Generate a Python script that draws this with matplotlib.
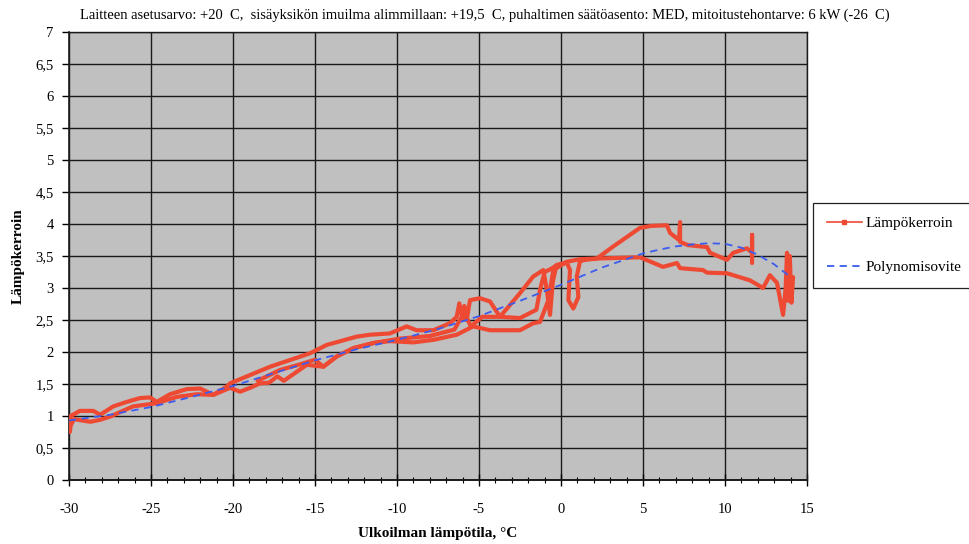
import matplotlib
matplotlib.use("Agg")
import matplotlib.pyplot as plt
from matplotlib.lines import Line2D
from matplotlib.ticker import MultipleLocator, FuncFormatter
import numpy as np

plt.rcParams['font.family'] = ['Liberation Serif', 'DejaVu Serif']

# Measured COP (lämpökerroin) against outdoor temperature, recorded as
# several passes through the temperature range.
pass1_temp = [-29.95, -29.9, -29.7, -28.7, -28.1, -27.5, -26.1, -24.65, -23.4, -22.2,
              -21.2, -20.18, -19.57, -18.96, -18.35, -17.8, -17.3, -16.9, -15.5, -14.49,
              -13.68, -12.66, -11.44, -10.43, -9.0, -7.78, -6.36, -5.35, -4.33, -2.5,
              -1.69, -1.28, -0.77, -0.47, 0.35, 1.16, 2.18, 4.82, 6.22, 7.07,
              7.26, 8.66, 8.9, 10.12, 11.52, 12.32, 12.74, 13.17, 13.54, 13.7,
              13.78, 13.85, 13.95, 14.05, 14.15]
pass1_cop = [0.75, 0.85, 0.95, 0.91, 0.94, 0.99, 1.15, 1.20, 1.30, 1.34,
             1.33, 1.44, 1.38, 1.44, 1.51, 1.52, 1.62, 1.55, 1.80, 1.77,
             1.93, 2.06, 2.14, 2.17, 2.15, 2.19, 2.27, 2.40, 2.34, 2.34,
             2.45, 2.47, 2.81, 3.28, 3.41, 3.45, 3.46, 3.48, 3.33, 3.39,
             3.31, 3.28, 3.24, 3.23, 3.12, 3.00, 3.20, 3.08, 2.58, 3.00,
             3.55, 2.80, 3.50, 2.77, 3.17]

pass2_temp = [11.65, 11.65, 11.65, 11.34, 10.5, 10.12, 9.09, 8.9, 7.74, 7.26,
              7.26, 7.2, 6.65, 6.46, 5.5, 4.82, 3.19, 2.18, 1.5, 1.16,
              0.96, 1.06, 0.75, 0.45, 0.55, 0.35, -0.27, -0.5, -0.67, -0.85,
              -1.08, -1.69, -2.5, -3.72, -4.33, -4.94, -5.55, -5.75, -5.9, -6.0,
              -6.2, -6.36, -6.77, -7.78, -8.8, -9.41, -10.43, -11.65, -12.46, -14.29,
              -15.3, -16.52, -17.74, -18.96, -20.18, -20.38, -21.2, -22.0, -22.82, -23.84,
              -24.65, -25.06, -25.67, -26.48, -27.3, -28.1, -28.52, -29.33, -29.9, -30.0]
pass2_cop = [3.39, 3.83, 3.55, 3.62, 3.55, 3.44, 3.55, 3.64, 3.67, 3.72,
             4.03, 3.75, 3.86, 3.98, 3.97, 3.94, 3.65, 3.46, 3.44, 3.42,
             3.18, 2.86, 2.68, 2.81, 3.28, 3.40, 3.36, 3.10, 2.58, 2.95,
             3.28, 3.18, 2.92, 2.55, 2.79, 2.84, 2.81, 2.50, 2.72, 2.52,
             2.76, 2.55, 2.45, 2.34, 2.34, 2.40, 2.29, 2.27, 2.24, 2.11,
             1.98, 1.875, 1.77, 1.64, 1.51, 1.46, 1.33, 1.43, 1.42, 1.34,
             1.22, 1.29, 1.28, 1.22, 1.15, 1.02, 1.08, 1.08, 1.00, 0.85]

pass3_temp = [-18.5, -17.13, -16.0, -15.0, -14.49, -13.68, -12.66, -11.44, -9.8, -8.0,
              -6.5, -5.9, -5.5, -4.8, -3.72, -2.5, -1.5, -1.28, -1.0, -0.6,
              -0.3, 0.2]
pass3_cop = [1.55, 1.72, 1.80, 1.88, 1.77, 1.93, 2.06, 2.14, 2.21, 2.25,
             2.35, 2.62, 2.40, 2.55, 2.55, 2.53, 2.66, 2.97, 3.25, 3.30,
             3.35, 3.38]

# Polynomial trend line (polynomisovite)
trend_temp = [-30, -27.5, -25, -22.5, -20, -17.5, -15, -12.5, -10, -7.5,
              -5, -2.5, 0, 2.5, 5, 6, 7, 8, 9, 10,
              11, 12, 13, 14]
trend_cop = [0.93, 1.02, 1.14, 1.30, 1.47, 1.67, 1.87, 2.04, 2.19, 2.36,
             2.56, 2.80, 3.05, 3.32, 3.54, 3.60, 3.65, 3.68, 3.70, 3.69,
             3.63, 3.52, 3.37, 3.17]

y_ticks = [0, 0.5, 1, 1.5, 2, 2.5, 3, 3.5, 4, 4.5, 5, 5.5, 6, 6.5, 7]
x_ticks = [-30, -25, -20, -15, -10, -5, 0, 5, 10, 15]

RED = '#ee4a33'
BLUE = '#3a5cf0'

fig = plt.figure(figsize=(9.69, 5.44), dpi=100)
ax = fig.add_axes([69 / 969, 64 / 544, 738 / 969, 448 / 544])
ax.set_facecolor('#c0c0c0')

for tx, cy in [(pass1_temp, pass1_cop), (pass2_temp, pass2_cop), (pass3_temp, pass3_cop)]:
    ax.plot(tx, cy, color=RED, lw=3.0, solid_joinstyle='round',
            solid_capstyle='round', zorder=3)

ax.plot(trend_temp, trend_cop, color=BLUE, lw=1.3, dashes=(4, 3), zorder=4)

ax.set_xlim(-30, 15)
ax.set_ylim(0, 7)
ax.set_xticks(x_ticks)
ax.set_yticks(y_ticks)
ax.xaxis.set_minor_locator(MultipleLocator(1))
ax.yaxis.set_major_formatter(FuncFormatter(lambda v, p: f"{v:g}".replace('.', ',')))
ax.xaxis.set_major_formatter(FuncFormatter(lambda v, p: f"{v:g}"))

ax.grid(True, which='major', color='#1a1a1a', lw=1.0)
ax.set_axisbelow(True)
for s in ax.spines.values():
    s.set_color('#1a1a1a')
    s.set_linewidth(1.0)
ax.spines['bottom'].set_linewidth(1.4)
ax.spines['left'].set_linewidth(1.2)

ax.tick_params(axis='y', direction='out', length=5, width=1, labelsize=10.5, pad=6)
ax.tick_params(axis='x', which='major', direction='inout', length=9, width=1,
               labelsize=10.5, pad=12)
ax.tick_params(axis='x', which='minor', direction='inout', length=4, width=0.8)

fig.text(0.5, 0.972,
         "Laitteen asetusarvo: +20  C,  sisäyksikön imuilma alimmillaan: +19,5  C, "
         "puhaltimen säätöasento: MED, mitoitustehontarve: 6 kW (-26  C)",
         ha='center', va='center', fontsize=10.5)
fig.text(18 / 969, 1 - 256 / 544, "Lämpökerroin", rotation=90, ha='center',
         va='center', fontsize=11, fontweight='bold')
fig.text(438 / 969, 1 - 533 / 544, "Ulkoilman lämpötila, °C", ha='center',
         va='center', fontsize=11, fontweight='bold')

handles = [Line2D([], [], color=RED, lw=1.2, marker='s', markersize=3),
           Line2D([], [], color=BLUE, lw=1.3, dashes=(4, 3))]
leg = fig.legend(handles, ["Lämpökerroin", "Polynomisovite"],
                 loc='lower left', bbox_to_anchor=(813 / 969, 1 - 288 / 544),
                 borderaxespad=0, fontsize=11, labelspacing=2.0,
                 handlelength=2.3, handletextpad=0.25, borderpad=0.9,
                 fancybox=False, framealpha=1, edgecolor='#222222')
leg.get_frame().set_linewidth(0.9)

fig.savefig("out.png", dpi=100, facecolor='white')
